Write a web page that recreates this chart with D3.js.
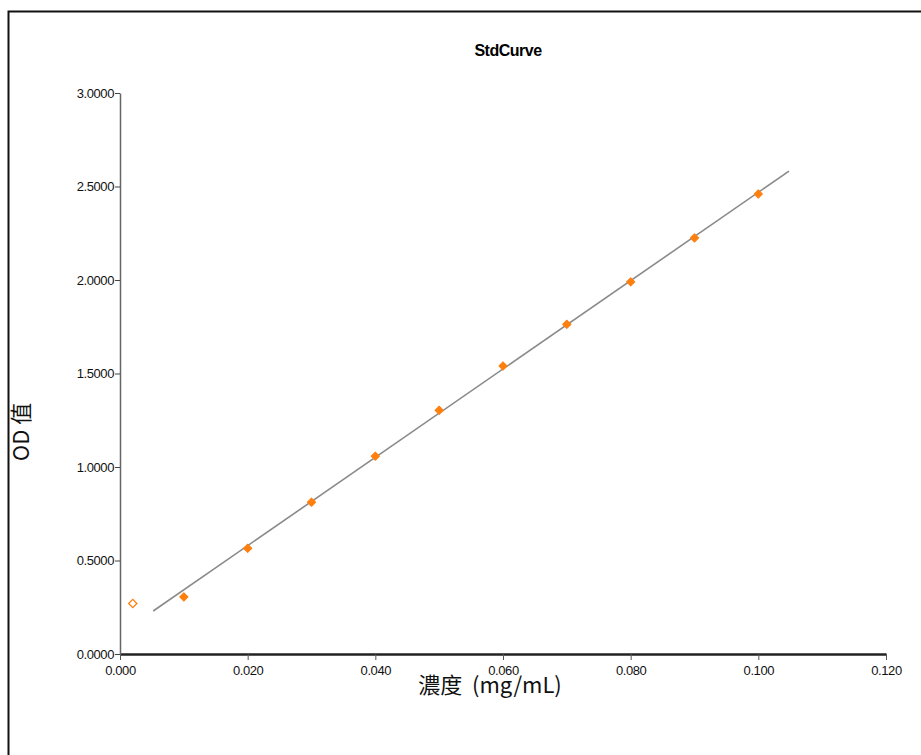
<!DOCTYPE html>
<html>
<head>
<meta charset="utf-8">
<script src="https://cdn.jsdelivr.net/npm/d3@7"></script>
<style>
  body { margin: 0; background: #fff; }
  svg { display: block; }
</style>
</head>
<body>
<script>
// standards (filled markers)
var concentrations = [0.010, 0.020, 0.030, 0.040, 0.050, 0.060, 0.070, 0.080, 0.090, 0.100];
var odValues = [0.305, 0.565, 0.812, 1.058, 1.303, 1.540, 1.763, 1.990, 2.225, 2.460];
// excluded point (hollow marker)
var outlierX = [0.002];
var outlierY = [0.270];
// fitted line y = slope * x + intercept, drawn over fitRange
var fitCoef = [23.62, 0.107];
var fitRange = [0.0052, 0.1048];
var xTicks = [0, 0.02, 0.04, 0.06, 0.08, 0.10, 0.12];
var yTicks = [0, 0.5, 1.0, 1.5, 2.0, 2.5, 3.0];

var width = 921, height = 755;
var margins = { left: 120, right: 35, top: 93, bottom: 101 };

var svg = d3.select('body').append('svg')
  .attr('width', width)
  .attr('height', height);

// frame (left and top edges only)
svg.append('path')
  .attr('d', 'M8.5,' + height + 'V11.5H' + width)
  .attr('fill', 'none')
  .attr('stroke', '#111')
  .attr('stroke-width', 2);

var xScale = d3.scaleLinear().domain([0, 0.12]).range([margins.left, width - margins.right]);
var yScale = d3.scaleLinear().domain([0, 3]).range([height - margins.bottom, margins.top]);

var tickFont = '"Liberation Sans", Arial, sans-serif';

// x axis
var xAxis = svg.append('g')
  .attr('transform', 'translate(0,' + yScale(0) + ')')
  .call(d3.axisBottom(xScale).tickValues(xTicks).tickFormat(d3.format('.3f')).tickSize(6).tickSizeOuter(0));
xAxis.select('.domain').attr('stroke', '#222').attr('stroke-width', 2.5);
xAxis.selectAll('.tick line').attr('stroke', '#555');
xAxis.selectAll('.tick text')
  .attr('y', 12)
  .style('font-family', tickFont)
  .style('font-size', '13px')
  .style('letter-spacing', '-0.4px')
  .attr('fill', '#111');

// y axis
var yAxis = svg.append('g')
  .attr('transform', 'translate(' + xScale(0) + ',0)')
  .call(d3.axisLeft(yScale).tickValues(yTicks).tickFormat(d3.format('.4f')).tickSize(5).tickSizeOuter(0));
yAxis.select('.domain').attr('stroke', '#666').attr('stroke-width', 1.5);
yAxis.selectAll('.tick line').attr('stroke', '#444');
yAxis.selectAll('.tick text')
  .attr('x', -6)
  .style('font-family', tickFont)
  .style('font-size', '13px')
  .style('letter-spacing', '-0.4px')
  .attr('fill', '#111');

// fitted line
svg.append('line')
  .attr('x1', xScale(fitRange[0]))
  .attr('y1', yScale(fitCoef[0] * fitRange[0] + fitCoef[1]))
  .attr('x2', xScale(fitRange[1]))
  .attr('y2', yScale(fitCoef[0] * fitRange[1] + fitCoef[1]))
  .attr('stroke', '#8a8a8a')
  .attr('stroke-width', 1.6);

var marker = d3.symbol().type(d3.symbolSquare).size(34);

// standards
svg.selectAll('path.pt')
  .data(concentrations)
  .enter()
  .append('path')
  .attr('class', 'pt')
  .attr('d', marker)
  .attr('transform', function(d, i) { return 'translate(' + xScale(d) + ',' + yScale(odValues[i]) + ') rotate(45)'; })
  .attr('fill', '#ff7f0e')
  .attr('stroke', '#ff7f0e')
  .attr('stroke-width', 1)
  .attr('stroke-linejoin', 'round');

// outlier
svg.selectAll('path.out')
  .data(outlierX)
  .enter()
  .append('path')
  .attr('class', 'out')
  .attr('d', marker)
  .attr('transform', function(d, i) { return 'translate(' + xScale(d) + ',' + yScale(outlierY[i]) + ') rotate(45)'; })
  .attr('fill', '#fff')
  .attr('stroke', '#ff7f0e')
  .attr('stroke-width', 1.3);

// title
svg.append('text')
  .attr('x', 508)
  .attr('y', 56)
  .attr('text-anchor', 'middle')
  .style('font-family', tickFont)
  .style('font-weight', 'bold')
  .style('font-size', '16px')
  .style('letter-spacing', '-0.5px')
  .text('StdCurve');

// axis labels
svg.append('text')
  .attr('x', 490)
  .attr('y', 693)
  .attr('text-anchor', 'middle')
  .style('font-family', '"Noto Sans CJK TC", "Noto Sans", sans-serif')
  .style('font-size', '22px')
  .style('white-space', 'pre')
  .attr('fill', '#111')
  .text('濃度  (mg/mL)');

svg.append('text')
  .attr('transform', 'translate(29,432) rotate(-90)')
  .attr('text-anchor', 'middle')
  .style('font-family', '"Noto Sans CJK TC", "Noto Sans", sans-serif')
  .style('font-size', '22px')
  .attr('fill', '#111')
  .text('OD 值');
</script>
</body>
</html>
